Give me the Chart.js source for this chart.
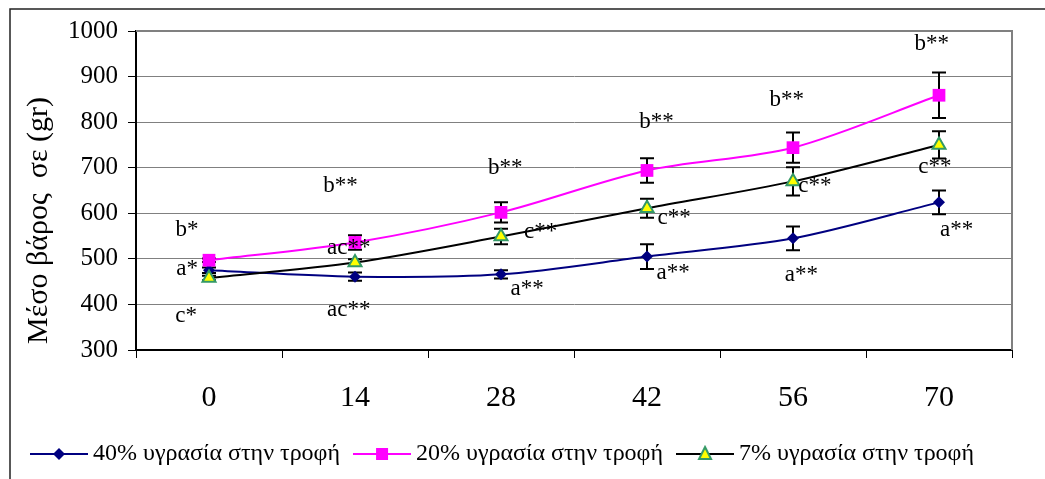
<!DOCTYPE html>
<html>
<head>
<meta charset="utf-8">
<script src="https://cdn.jsdelivr.net/npm/chart.js@4/dist/chart.umd.min.js"></script>
<style>
  body { margin: 0; background: #fff; }
</style>
</head>
<body>
<canvas id="weightChart" width="1045" height="479"></canvas>
<script>
// days of feeding
const days = ['0', '14', '28', '42', '56', '70'];

// mean weight (gr) and error per moisture level of the feed
const moist40 = [475, 461, 466, 505, 545, 624];
const moist40Err = [6, 9, 9, 27, 26, 26];
const moist20 = [497, 536, 602, 694, 744, 859];
const moist20Err = [4, 16, 22, 27, 33, 50];
const moist7 = [458, 492, 549, 611, 670, 750];
const moist7Err = [5, 7, 17, 21, 31, 30];

const yTicks = [300, 400, 500, 600, 700, 800, 900, 1000];

// significance letters: text, day, weight
const sigText = ['b*', 'a*', 'c*', 'ac**', 'ac**', 'b**', 'b**', 'c**', 'a**', 'b**', 'c**', 'a**', 'b**', 'c**', 'a**', 'b**', 'c**', 'a**'];
const sigDay = [-2.1, -2.1, -2.2, 13.4, 13.4, 12.6, 28.4, 31.8, 30.5, 42.9, 44.6, 44.5, 55.4, 58.1, 56.8, 69.3, 69.6, 71.7];
const sigValue = [564, 478, 374, 525, 387, 659, 699, 560, 433, 800, 590, 469, 848, 661, 464, 972, 702, 564];

const seriesNames = ['40% υγρασία στην τροφή', '20% υγρασία στην τροφή', '7% υγρασία στην τροφή'];
const yTitle = 'Μέσο βάρος  σε (gr)';

const SERIF = "'Liberation Serif', 'Times New Roman', serif";

// small marker drawers, shared by the legend swatches
function drawMarker(ctx, kind, x, y) {
  ctx.beginPath();
  if (kind === 'diamond') {
    ctx.moveTo(x - 6, y); ctx.lineTo(x, y - 6); ctx.lineTo(x + 6, y); ctx.lineTo(x, y + 6);
    ctx.closePath();
    ctx.fillStyle = '#000080';
    ctx.fill();
  } else if (kind === 'square') {
    ctx.rect(x - 6, y - 6, 12, 12);
    ctx.fillStyle = '#ff00ff';
    ctx.fill();
  } else {
    ctx.moveTo(x, y - 7); ctx.lineTo(x + 6, y + 5); ctx.lineTo(x - 6, y + 5);
    ctx.closePath();
    ctx.fillStyle = '#ffff00';
    ctx.fill();
    ctx.lineWidth = 2;
    ctx.strokeStyle = '#339966';
    ctx.stroke();
  }
}

function legendSwatch(color, kind) {
  const c = document.createElement('canvas');
  c.width = 58; c.height = 18;
  const ctx = c.getContext('2d');
  ctx.strokeStyle = color;
  ctx.lineWidth = 2;
  ctx.beginPath();
  ctx.moveTo(0, 9); ctx.lineTo(58, 9);
  ctx.stroke();
  drawMarker(ctx, kind, 29, 9);
  return c;
}

const swatches = [
  legendSwatch('#000080', 'diamond'),
  legendSwatch('#ff00ff', 'square'),
  legendSwatch('#000000', 'triangle')
];

const errors = [moist40Err, moist20Err, moist7Err];

const errorBars = {
  id: 'errorBars',
  beforeDatasetsDraw(chart) {
    const y = chart.scales.y;
    const ctx = chart.ctx;
    ctx.save();
    ctx.strokeStyle = '#000';
    ctx.lineWidth = 2;
    chart.data.datasets.forEach((ds, i) => {
      const meta = chart.getDatasetMeta(i);
      meta.data.forEach((pt, j) => {
        const top = y.getPixelForValue(ds.data[j] + errors[i][j]);
        const bot = y.getPixelForValue(ds.data[j] - errors[i][j]);
        ctx.beginPath();
        ctx.moveTo(pt.x, top); ctx.lineTo(pt.x, bot);
        ctx.moveTo(pt.x - 7, top); ctx.lineTo(pt.x + 7, top);
        ctx.moveTo(pt.x - 7, bot); ctx.lineTo(pt.x + 7, bot);
        ctx.stroke();
      });
    });
    ctx.restore();
  }
};

const sigLabels = {
  id: 'sigLabels',
  afterDatasetsDraw(chart) {
    const { x, y } = chart.scales;
    const ctx = chart.ctx;
    ctx.save();
    ctx.font = '23px ' + SERIF;
    ctx.fillStyle = '#000';
    ctx.textAlign = 'center';
    ctx.textBaseline = 'middle';
    sigText.forEach((t, i) => {
      ctx.fillText(t, x.getPixelForValue(sigDay[i] / 14), y.getPixelForValue(sigValue[i]));
    });
    ctx.restore();
  }
};

const frame = {
  id: 'frame',
  beforeDatasetsDraw(chart) {
    const a = chart.chartArea;
    const ctx = chart.ctx;
    ctx.save();
    ctx.strokeStyle = '#808080';
    ctx.lineWidth = 2;
    ctx.beginPath();
    ctx.moveTo(a.left, a.top); ctx.lineTo(a.right, a.top); ctx.lineTo(a.right, a.bottom);
    ctx.stroke();
    ctx.restore();
  },
  afterDraw(chart) {
    const a = chart.chartArea;
    const ctx = chart.ctx;
    ctx.save();
    // outer chart border
    ctx.strokeStyle = '#222';
    ctx.lineWidth = 1.5;
    ctx.beginPath();
    ctx.moveTo(10, chart.height); ctx.lineTo(10, 9); ctx.lineTo(chart.width, 9);
    ctx.stroke();
    // value axis title
    ctx.font = '30px ' + SERIF;
    ctx.fillStyle = '#000';
    ctx.textAlign = 'center';
    ctx.textBaseline = 'middle';
    ctx.translate(39, (a.top + a.bottom) / 2 + 30);
    ctx.rotate(-Math.PI / 2);
    ctx.fillText(yTitle, 0, 0);
    ctx.restore();
  }
};

new Chart(document.getElementById('weightChart'), {
  type: 'line',
  data: {
    labels: days,
    datasets: [
      {
        label: seriesNames[0],
        data: moist40,
        borderColor: '#000080',
        backgroundColor: '#000080',
        borderWidth: 2,
        pointStyle: 'rectRot',
        pointRadius: 6,
        pointBorderWidth: 0,
        tension: 0.3,
        order: 2
      },
      {
        label: seriesNames[1],
        data: moist20,
        borderColor: '#ff00ff',
        backgroundColor: '#ff00ff',
        borderWidth: 2,
        pointStyle: 'rect',
        pointRadius: 9,
        pointBorderWidth: 0,
        tension: 0.3,
        order: 1
      },
      {
        label: seriesNames[2],
        data: moist7,
        borderColor: '#000000',
        backgroundColor: '#ffff00',
        pointBorderColor: '#339966',
        borderWidth: 2,
        pointStyle: 'triangle',
        pointRadius: 7.5,
        pointBorderWidth: 2,
        tension: 0.3,
        order: 0
      }
    ]
  },
  options: {
    responsive: false,
    animation: false,
    devicePixelRatio: 1,
    layout: { padding: { left: 17, top: 31, right: 33, bottom: 3 } },
    plugins: {
      tooltip: { enabled: false },
      legend: {
        position: 'bottom',
        align: 'start',
        labels: {
          usePointStyle: true,
          pointStyleWidth: 44,
          padding: 20,
          color: '#000',
          font: { family: SERIF, size: 24 },
          generateLabels(chart) {
            return chart.data.datasets.map((ds, i) => ({
              text: ds.label,
              pointStyle: swatches[i],
              fillStyle: ds.borderColor,
              strokeStyle: ds.borderColor,
              lineWidth: 0,
              hidden: false,
              datasetIndex: i
            }));
          }
        }
      }
    },
    scales: {
      x: {
        offset: true,
        afterFit(scale) { scale.height = 72; },
        grid: {
          display: true,
          offset: true,
          drawOnChartArea: false,
          drawTicks: true,
          tickLength: 8,
          tickColor: '#000',
          tickWidth: 1
        },
        border: { display: true, color: '#000', width: 2 },
        ticks: {
          color: '#000',
          padding: 22,
          font: { family: SERIF, size: 30 }
        }
      },
      y: {
        min: 300,
        max: 1000,
        afterFit(scale) { scale.width = 119; },
        afterBuildTicks(scale) { scale.ticks = yTicks.map(v => ({ value: v })); },
        grid: {
          color: '#808080',
          lineWidth: 1,
          tickLength: 8,
          tickColor: '#000'
        },
        border: { display: true, color: '#000', width: 2 },
        ticks: {
          color: '#000',
          padding: 10,
          font: { family: SERIF, size: 25 },
          callback: (v) => String(v)
        }
      }
    }
  },
  plugins: [frame, errorBars, sigLabels]
});
</script>
</body>
</html>
